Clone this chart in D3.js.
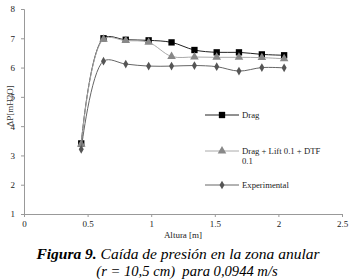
<!DOCTYPE html>
<html><head><meta charset="utf-8">
<script src="https://cdn.jsdelivr.net/npm/d3@7"></script>
<style>html,body{margin:0;padding:0;background:#fff;}svg{display:block;}</style>
</head><body>
<script>
const xVals = [0.45, 0.625, 0.80, 0.98, 1.16, 1.34, 1.515, 1.69, 1.87, 2.045];
const dragVals = [3.41, 7.00, 6.95, 6.93, 6.86, 6.60, 6.52, 6.52, 6.45, 6.42];
const liftVals = [3.38, 6.97, 6.92, 6.86, 6.38, 6.36, 6.35, 6.35, 6.34, 6.30];
const expVals = [3.21, 6.22, 6.12, 6.05, 6.05, 6.07, 6.03, 5.88, 6.00, 5.99];
const xTicks = [0, 0.5, 1, 1.5, 2, 2.5];
const yTicks = [1, 2, 3, 4, 5, 6, 7, 8];
const seriesNames = ["Drag", "Drag + Lift 0.1 + DTF", "Experimental"];

const W = 351, H = 280;
const FONT = "'Liberation Serif','Times New Roman',serif";
const svg = d3.select("body").append("svg").attr("width", W).attr("height", H)
  .style("font-family", FONT);

const x = d3.scaleLinear().domain([0, 2.5]).range([24, 342]);
const y = d3.scaleLinear().domain([1, 8]).range([214, 9]);

const axisColor = "#999";
const gx = svg.append("g").attr("transform", `translate(0,${y(1)})`)
  .call(d3.axisBottom(x).tickValues(xTicks).tickSize(3).tickPadding(4).tickFormat(d3.format("")));
const gy = svg.append("g").attr("transform", `translate(${x(0)},0)`)
  .call(d3.axisLeft(y).tickValues(yTicks).tickSize(3).tickPadding(6).tickFormat(d3.format("")));
[gx, gy].forEach(g => {
  g.attr("font-family", FONT);
  g.select(".domain").attr("stroke", axisColor);
  g.selectAll(".tick line").attr("stroke", axisColor);
  g.selectAll(".tick text").attr("fill", "#222").style("font-size", "9px")
   .style("font-family", FONT);
});

svg.append("text").attr("x", 183).attr("y", 238).attr("text-anchor", "middle")
  .style("font-size", "9px").attr("fill", "#222").text("Altura [m]");
svg.append("text").attr("transform", "translate(13,106) rotate(-90)").attr("text-anchor", "middle")
  .style("font-size", "9px").attr("fill", "#333").text("ΔP[mH2O]");

const series = [
  {name: seriesNames[0], vals: dragVals, line: "#222", fill: "#000", sym: d3.symbolSquare, size: 40},
  {name: seriesNames[1], vals: liftVals, line: "#aaa", fill: "#888", sym: d3.symbolTriangle, size: 32},
  {name: seriesNames[2], vals: expVals, line: "#666", fill: "#555", sym: d3.symbolDiamond, size: 22}
];

const lineGen = d3.line().x(d => x(d[0])).y(d => y(d[1])).curve(d3.curveCatmullRom.alpha(0.5));
series.forEach(s => {
  const pts = xVals.map((v, i) => [v, s.vals[i]]);
  svg.append("path").attr("d", lineGen(pts)).attr("fill", "none").attr("stroke", s.line).attr("stroke-width", 1);
  svg.append("g").selectAll("path").data(pts).join("path")
    .attr("transform", d => `translate(${x(d[0])},${y(d[1])})`)
    .attr("d", d3.symbol().type(s.sym).size(s.size)).attr("fill", s.fill);
});

// legend
const legY = [115, 151, 185];
series.forEach((s, i) => {
  const g = svg.append("g");
  g.append("line").attr("x1", 205).attr("x2", 239).attr("y1", legY[i]).attr("y2", legY[i])
    .attr("stroke", s.line).attr("stroke-width", 1);
  g.append("path").attr("transform", `translate(222,${legY[i]})`)
    .attr("d", d3.symbol().type(s.sym).size(s.size)).attr("fill", s.fill);
  g.append("text").attr("x", 242).attr("y", legY[i] + 3).style("font-size", "8.7px").attr("fill", "#222").text(s.name);
});
svg.append("text").attr("x", 242).attr("y", 164).style("font-size", "8.7px").attr("fill", "#222").text("0.1");

// caption
const t1 = svg.append("text").attr("x", 178).attr("y", 259).attr("text-anchor", "middle")
  .style("font-size", "15.5px").style("font-style", "italic");
t1.append("tspan").style("font-weight", "bold").text("Figura 9.");
t1.append("tspan").text(" Caída de presión en la zona anular");
svg.append("text").attr("x", 187).attr("y", 276).attr("text-anchor", "middle")
  .style("font-size", "14.6px").style("font-style", "italic").style("white-space", "pre")
  .text("(r = 10,5 cm)  para 0,0944 m/s");
</script>
</body></html>
